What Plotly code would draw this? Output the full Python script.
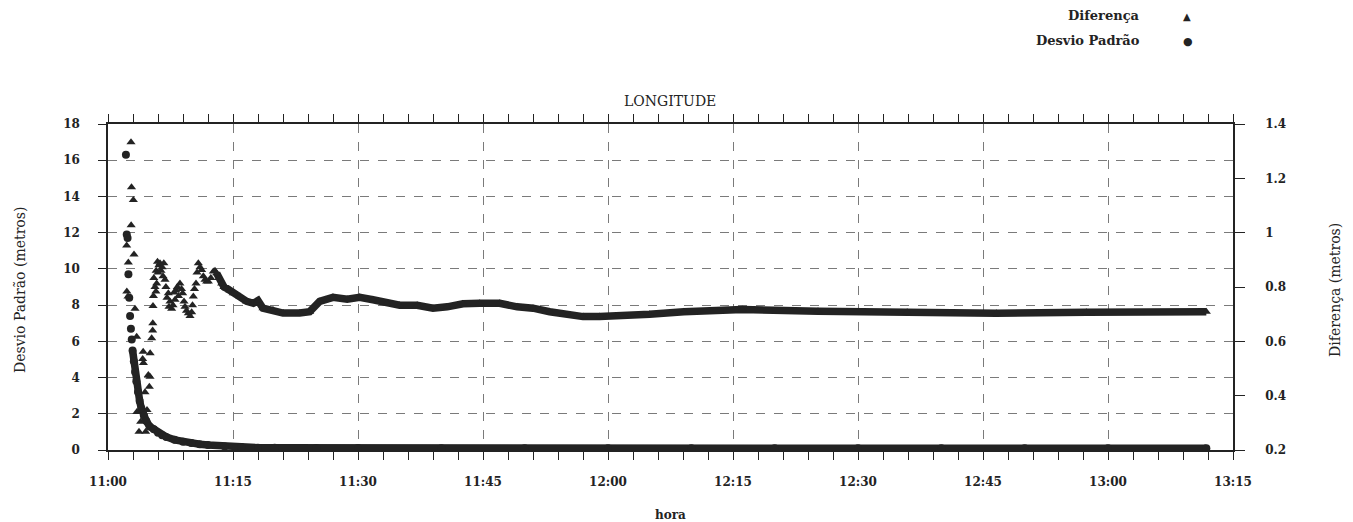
import pandas as pd
import plotly.graph_objects as go

# ---------------- data ----------------
# minutes after 11:00
dif_min = [2.24, 2.26, 2.40, 2.44, 2.76, 2.78, 2.82, 3.04, 3.12, 3.24, 3.44, 3.46, 3.72, 3.92,
           4.16, 4.22, 4.25, 4.44, 4.52, 4.68, 4.84, 4.96, 5.04, 5.06, 5.24, 5.36, 5.38, 5.40,
           5.45, 5.50, 5.64, 5.75, 5.78, 5.84, 5.94, 6.0, 6.11, 6.24, 6.36, 6.5, 6.6, 6.7, 6.84,
           6.95, 7.08, 7.24, 7.32, 7.44, 7.64, 7.8, 7.92, 8.04, 8.16, 8.32, 8.46, 8.63, 8.82,
           8.96, 9.12, 9.24, 9.42, 9.64, 9.84, 10.04, 10.14, 10.24, 10.38, 10.56, 10.68, 10.84,
           11.04, 11.24, 11.44, 11.64, 11.84, 12.04, 12.34, 12.64, 12.84, 13.04, 13.32, 13.64,
           13.92, 14.24, 14.64, 15.04, 15.84, 16.64, 17.44, 18.0, 18.6, 19.8, 21.0, 23.0, 24.2,
           25.4, 27.0, 28.7, 30.2, 31.8, 33.5, 35.0, 37.1, 39.0, 40.7, 42.6, 44.6, 47.0, 49.1,
           51.0, 53.0, 55.1, 57.0, 59.0, 62.0, 65.0, 69.1, 76.1, 85.2, 95.9, 106.6, 117.4, 131.8]
# Diferença (metros), right axis
dif_val = [0.953, 0.783, 0.765, 0.890, 1.333, 1.027, 1.167, 1.120, 0.920, 0.720, 0.617, 0.340,
           0.267, 0.304, 0.535, 0.562, 0.520, 0.413, 0.267, 0.347, 0.476, 0.433, 0.470, 0.556,
           0.611, 0.640, 0.667, 0.730, 0.767, 0.833, 0.800, 0.783, 0.860, 0.813, 0.893, 0.853,
           0.880, 0.887, 0.860, 0.873, 0.840, 0.887, 0.827, 0.800, 0.760, 0.777, 0.727, 0.747,
           0.720, 0.733, 0.780, 0.753, 0.787, 0.800, 0.767, 0.813, 0.793, 0.777, 0.747, 0.727,
           0.713, 0.703, 0.693, 0.707, 0.733, 0.765, 0.793, 0.813, 0.853, 0.887, 0.873, 0.863,
           0.840, 0.827, 0.820, 0.820, 0.833, 0.857, 0.860, 0.851, 0.833, 0.813, 0.800, 0.795,
           0.787, 0.777, 0.765, 0.747, 0.740, 0.750, 0.722, 0.715, 0.704, 0.704, 0.709, 0.747,
           0.762, 0.755, 0.762, 0.753, 0.740, 0.733, 0.733, 0.722, 0.727, 0.738, 0.740, 0.740,
           0.727, 0.722, 0.709, 0.697, 0.691, 0.691, 0.693, 0.700, 0.709, 0.717, 0.711, 0.707,
           0.703, 0.707, 0.709]

dp_min = [2.15, 2.25, 2.35, 2.45, 2.55, 2.65, 2.75, 2.85, 2.95, 3.1, 3.25, 3.4, 3.6, 3.8, 4.0,
          4.3, 4.6, 5.0, 5.5, 6.0, 6.5, 7.0, 8.0, 9.0, 10.0, 11.0, 12.0, 14.0, 16.0, 18.0, 20.0,
          25.0, 30.0, 40.0, 50.0, 60.0, 70.0, 80.0, 90.0, 100.0, 110.0, 120.0, 131.8]
# Desvio Padrão (metros), left axis
dp_val = [16.3, 11.9, 11.7, 9.7, 8.4, 7.4, 6.7, 6.1, 5.5, 4.9, 4.3, 3.8, 3.2, 2.7, 2.3,
          1.9, 1.6, 1.3, 1.15, 0.95, 0.82, 0.72, 0.56, 0.45, 0.38, 0.32, 0.28, 0.2, 0.16, 0.13,
          0.12, 0.11, 0.11, 0.1, 0.1, 0.1, 0.1, 0.1, 0.1, 0.1, 0.1, 0.1, 0.1]

x_ticks_start = "11:00"
x_ticks_end = "13:15"
title_text = "LONGITUDE"
x_title = "hora"
y1_title = "Desvio Padrão (metros)"
y2_title = "Diferença (metros)"
legend_names = ["Diferença", "Desvio Padrão"]

# ---------------- build ----------------
base = pd.Timestamp("2000-01-01 11:00")
dif_t = base + pd.to_timedelta(dif_min, unit="min")
dp_t = base + pd.to_timedelta(dp_min, unit="min")
x0 = pd.Timestamp("2000-01-01 " + x_ticks_start)
x1 = pd.Timestamp("2000-01-01 " + x_ticks_end)

INK = "#232323"
GRID = "#7a7a7a"
FONT = "DejaVu Serif"

fig = go.Figure()
# Desvio Padrão: dense band + markers
dp_line_from = 8
fig.add_trace(go.Scatter(x=dp_t[dp_line_from:], y=dp_val[dp_line_from:], mode="lines",
                         line=dict(color=INK, width=7.5), showlegend=False, hoverinfo="skip"))
fig.add_trace(go.Scatter(x=dp_t, y=dp_val, mode="markers", name=legend_names[1],
                         marker=dict(symbol="circle", size=8, color=INK), showlegend=False))
# Diferença on right axis
dif_line_from = dif_min.index(13.04)
fig.add_trace(go.Scatter(x=dif_t[dif_line_from:], y=dif_val[dif_line_from:], mode="lines",
                         line=dict(color=INK, width=7.5), yaxis="y2", showlegend=False,
                         hoverinfo="skip"))
fig.add_trace(go.Scatter(x=dif_t, y=dif_val, mode="markers", name=legend_names[0], yaxis="y2",
                         marker=dict(symbol="triangle-up", size=8, color=INK), showlegend=False))

# layout geometry (pixels)
W, H = 1353, 522
L, R, T, B = 108, 1233, 124, 450


def px(xp):
    return (xp - L) / (R - L)


def py(yp):
    return (B - yp) / (B - T)


tickfont = dict(family=FONT, size=12, color=INK, weight="bold")

fig.update_layout(
    width=W, height=H,
    margin=dict(l=L, r=W - R, t=T, b=H - B),
    paper_bgcolor="white", plot_bgcolor="white",
    showlegend=False,
    xaxis=dict(
        type="date", range=[x0, x1], dtick=15 * 60 * 1000, tick0=x0, tickformat="%H:%M",
        showgrid=True, gridcolor=GRID, griddash="dash", gridwidth=1,
        showline=True, linecolor=INK, linewidth=1.5, mirror="allticks",
        ticks="outside", ticklen=8, tickcolor=INK, tickwidth=1.2,
        tickfont=tickfont, ticklabelstandoff=12,
        minor=dict(dtick=3 * 60 * 1000, tick0=x0, ticks="outside", ticklen=4,
                   tickcolor=INK, showgrid=False),
        zeroline=False,
    ),
    yaxis=dict(
        range=[0, 18], dtick=2, showgrid=True, gridcolor=GRID, griddash="dash", gridwidth=1,
        showline=True, linecolor=INK, linewidth=1.5,
        ticks="outside", ticklen=8, tickcolor=INK, tickwidth=1.2,
        tickfont=tickfont, ticklabelstandoff=16, zeroline=False,
    ),
    yaxis2=dict(
        range=[0.2, 1.4], dtick=0.2, overlaying="y", side="right", showgrid=False,
        showline=True, linecolor=INK, linewidth=1.5,
        ticks="outside", ticklen=10, tickcolor=INK, tickwidth=1.2,
        tickfont=tickfont, ticklabelstandoff=18, zeroline=False,
    ),
)

ann_font = dict(family=FONT, size=13, color=INK, weight="bold")
title_font = dict(family=FONT, size=14, color=INK)
anns = [
    dict(text=title_text, x=px(670), y=py(101), xanchor="center", yanchor="middle", font=title_font),
    dict(text=x_title, x=px(670), y=py(515), xanchor="center", yanchor="middle",
         font=dict(family=FONT, size=12, color=INK, weight="bold")),
    dict(text=y1_title, x=px(20), y=py(290), xanchor="center", yanchor="middle",
         textangle=-90, font=title_font),
    dict(text=y2_title, x=px(1335), y=py(290), xanchor="center", yanchor="middle",
         textangle=-90, font=title_font),
    dict(text=legend_names[0], x=px(1142), y=py(16), xanchor="right", yanchor="middle", font=ann_font),
    dict(text=legend_names[1], x=px(1142), y=py(41), xanchor="right", yanchor="middle", font=ann_font),
    dict(text="▲", x=px(1187), y=py(17), xanchor="center", yanchor="middle",
         font=dict(family="DejaVu Sans", size=10, color=INK)),
    dict(text="●", x=px(1188), y=py(42), xanchor="center", yanchor="middle",
         font=dict(family="DejaVu Sans", size=11, color=INK)),
]
for a in anns:
    a.update(xref="paper", yref="paper", showarrow=False)
fig.update_layout(annotations=anns)

fig.write_html("out.html", config={"displayModeBar": False},
               post_script="document.body.style.margin='0px';document.body.style.overflow='hidden';")
